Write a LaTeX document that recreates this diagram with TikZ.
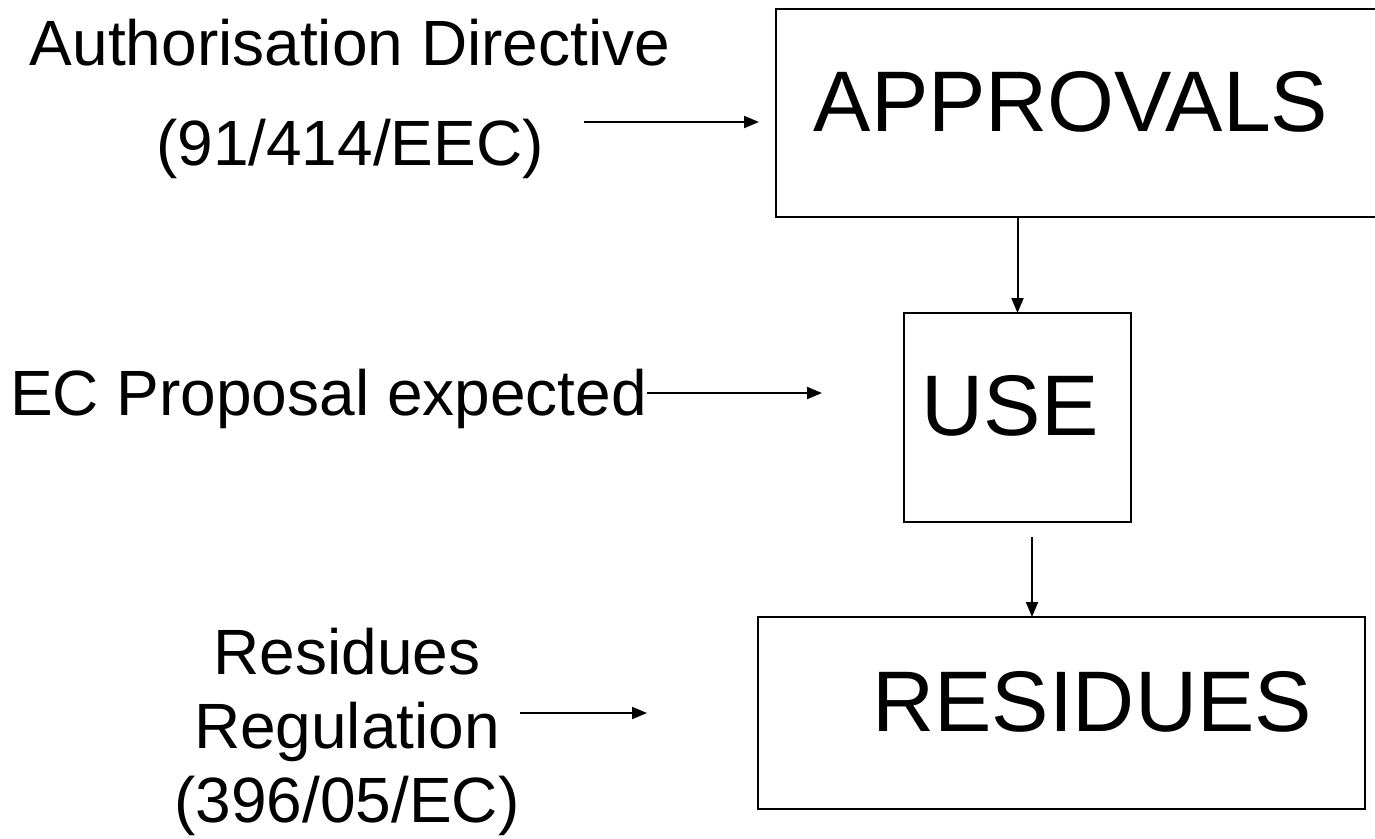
\documentclass[tikz,border=0pt]{standalone}
\usepackage{fontspec}
\setmainfont{Liberation Sans}
\usetikzlibrary{arrows.meta,calc}
\begin{document}
\begin{tikzpicture}[x=1pt,y=-1pt,
  box/.style={draw=black, line width=2.8pt, inner sep=0pt, outer sep=0pt},
  big/.style={font=\fontsize{86}{100}\selectfont, inner sep=0pt},
  side/.style={font=\fontsize{64}{74}\selectfont, align=center, inner sep=0pt},
  arr/.style={line width=2pt, -{Triangle[length=15pt,width=12pt]}}]
\clip (0,0) rectangle (1375,838);
\fill[white] (0,0) rectangle (1375,838);
% boxes
\node[box, minimum width=604pt, minimum height=208pt,
  label={[big, xshift=-7pt, yshift=11pt]center:APPROVALS}] (approvals) at (1078,113) {};
\node[box, minimum width=227pt, minimum height=209pt,
  label={[big, xshift=-7.5pt, yshift=11.5pt]center:USE}] (use) at (1017.5,417.5) {};
\node[box, minimum width=607pt, minimum height=192pt,
  label={[big, xshift=30.5pt, yshift=11pt]center:RESIDUES}] (residues) at (1061.5,713) {};
% side texts
\node[side, anchor=base] (auth) at (350,165) {Authorisation Directive\\[26pt](91/414/EEC)};
\node[side, anchor=base west] (ec) at (10,415) {EC Proposal expected};
\node[side, anchor=base] (resreg) at (347,822) {Residues\\Regulation\\(396/05/EC)};
% free ends
\coordinate (a1) at (584,122);
\coordinate (e2) at (822,393);
\coordinate (r1) at (520,713);
\coordinate (r2) at (647,713);
% connectors
\draw[arr] (a1) -- ([xshift=-17pt]approvals.west |- a1);
\draw[arr] (ec.east |- e2) -- (e2);
\draw[arr] (r1) -- (r2);
\draw[arr] (approvals.south -| use.north) -- (use.north);
\draw[arr] ([xshift=14.5pt,yshift=-15pt]use.south) -- ([xshift=14.5pt]use.south |- residues.north);
\end{tikzpicture}
\end{document}
